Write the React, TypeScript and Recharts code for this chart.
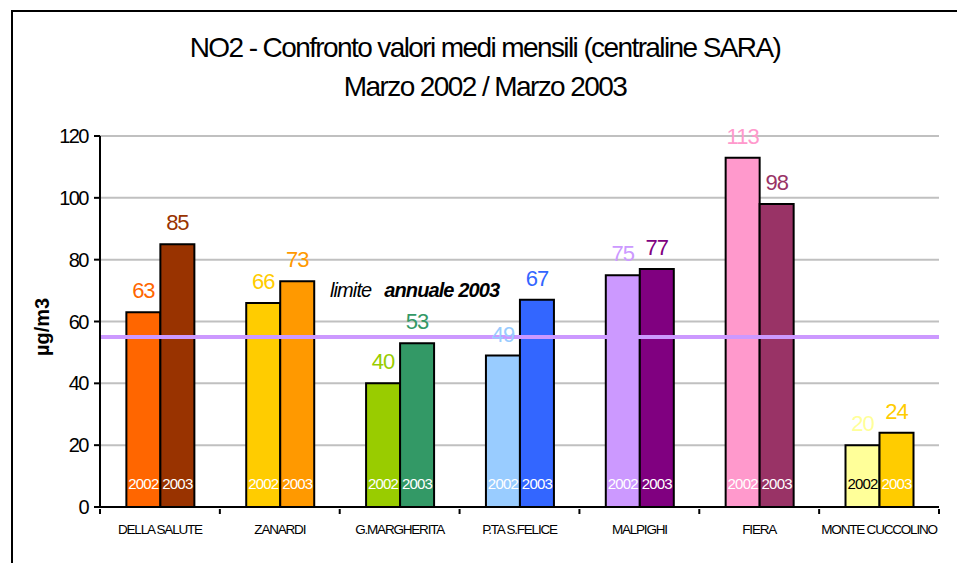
import { Bar, BarChart, CartesianGrid, Cell, LabelList, ReferenceLine, XAxis, YAxis } from 'recharts';

const stations = ['DELLA SALUTE', 'ZANARDI', 'G.MARGHERITA', 'P.TA S.FELICE', 'MALPIGHI', 'FIERA', 'MONTE CUCCOLINO'];
const values2002 = [63, 66, 40, 49, 75, 113, 20];
const values2003 = [85, 73, 53, 67, 77, 98, 24];
const colors2002 = ['#FF6600', '#FFCC00', '#99CC00', '#99CCFF', '#CC99FF', '#FF99CC', '#FFFF99'];
const colors2003 = ['#993300', '#FF9900', '#339966', '#3366FF', '#800080', '#993366', '#FFCC00'];
const yearText2002 = ['#fff', '#fff', '#fff', '#fff', '#fff', '#fff', '#000'];
const yTicks = [0, 20, 40, 60, 80, 100, 120];
const annualLimit = 55;

const data = stations.map((name, i) => ({ name, y2002: values2002[i], y2003: values2003[i] }));

const W = 957;
const H = 563;
const M = { top: 136, right: 18, left: 40, bottom: 26 };
const Y_W = 60;
const step = (W - M.right - M.left - Y_W) / stations.length;
const font = '"Liberation Sans", Arial, sans-serif';

function StationTick(props: any) {
  const { x, y, payload, index } = props;
  return (
    <g>
      <line x1={x - step / 2} x2={x - step / 2} y1={y} y2={y + 5} stroke="#000" strokeWidth={2} />
      {index === stations.length - 1 && (
        <line x1={x + step / 2} x2={x + step / 2} y1={y} y2={y + 5} stroke="#000" strokeWidth={2} />
      )}
      <text x={x} y={y + 25} textAnchor="middle" fontSize={13.5} letterSpacing={-1.2} fill="#000" fontFamily={font}>
        {payload.value}
      </text>
    </g>
  );
}

const valueLabel = (colors: string[]) => (props: any) => {
  const { x, y, width, value, index } = props;
  return (
    <text x={x + width / 2} y={y - 14} textAnchor="middle" fontSize={22} letterSpacing={-1} fill={colors[index]} fontFamily={font}>
      {value}
    </text>
  );
};

const yearLabel = (year: string, colors: string[]) => (props: any) => {
  const { x, y, width, height, index } = props;
  return (
    <text x={x + width / 2} y={y + height - 18} textAnchor="middle" fontSize={15} letterSpacing={-0.8} fill={colors[index]} fontFamily={font}>
      {year}
    </text>
  );
};

function LimitLabel(props: any) {
  const { viewBox } = props;
  return (
    <text x={330} y={viewBox.y - 40} fontSize={20} letterSpacing={-0.9} fontStyle="italic" fill="#000" fontFamily={font}>
      <tspan>limite</tspan>
      <tspan dx={13} fontWeight="bold">annuale 2003</tspan>
    </text>
  );
}

function UnitLabel() {
  return (
    <text x={42} y={327} transform="rotate(-90 42 327)" textAnchor="middle" dominantBaseline="central" fontSize={20} fontWeight="bold" fill="#000" fontFamily={font}>
      µg/m3
    </text>
  );
}

export default function App() {
  return (
    <div style={{ position: 'absolute', left: 0, top: 0, width: W, height: H, overflow: 'hidden', background: '#fff', fontFamily: font }}>
      <div style={{ position: 'absolute', left: 11, top: 10, width: 980, height: 620, border: '2px solid #000', boxSizing: 'border-box' }} />
      <div style={{ position: 'absolute', left: 0, width: 970, top: 28, textAlign: 'center', fontSize: 28, letterSpacing: -1.6, lineHeight: '39px', color: '#000' }}>
        <div>NO2 - Confronto valori medi mensili (centraline SARA)</div>
        <div>Marzo 2002 / Marzo 2003</div>
      </div>
      <div style={{ position: 'absolute', left: 0, top: 0 }}>
        <BarChart width={W} height={H} data={data} margin={M} barGap={0} barCategoryGap="22%">
          <CartesianGrid vertical={false} stroke="#c0c0c0" strokeWidth={2} />
          <XAxis dataKey="name" height={30} axisLine={{ stroke: '#000', strokeWidth: 2 }} tickLine={false} tickSize={0} tick={<StationTick />} interval={0} />
          <YAxis
            width={Y_W}
            domain={[0, 120]}
            ticks={yTicks}
            axisLine={{ stroke: '#000', strokeWidth: 2 }}
            tickLine={{ stroke: '#000', strokeWidth: 2 }}
            tickSize={6}
            tick={{ fill: '#000', fontSize: 20, letterSpacing: -1.5, fontFamily: font, dx: -4 }}
            label={<UnitLabel />}
          />
          <YAxis yAxisId="right" orientation="right" width={0} domain={[0, 120]} tick={false} tickLine={false} axisLine={{ stroke: '#a0a0a0', strokeWidth: 2 }} />
          <Bar dataKey="y2002" stroke="#000" strokeWidth={2} isAnimationActive={false}>
            {data.map((_, i) => (
              <Cell key={i} fill={colors2002[i]} />
            ))}
            <LabelList dataKey="y2002" content={valueLabel(colors2002)} />
            <LabelList dataKey="y2002" content={yearLabel('2002', yearText2002)} />
          </Bar>
          <Bar dataKey="y2003" stroke="#000" strokeWidth={2} isAnimationActive={false}>
            {data.map((_, i) => (
              <Cell key={i} fill={colors2003[i]} />
            ))}
            <LabelList dataKey="y2003" content={valueLabel(colors2003)} />
            <LabelList dataKey="y2003" content={yearLabel('2003', stations.map(() => '#fff'))} />
          </Bar>
          <ReferenceLine y={annualLimit} stroke="#CC99FF" strokeWidth={4} label={<LimitLabel />} />
        </BarChart>
      </div>
    </div>
  );
}
